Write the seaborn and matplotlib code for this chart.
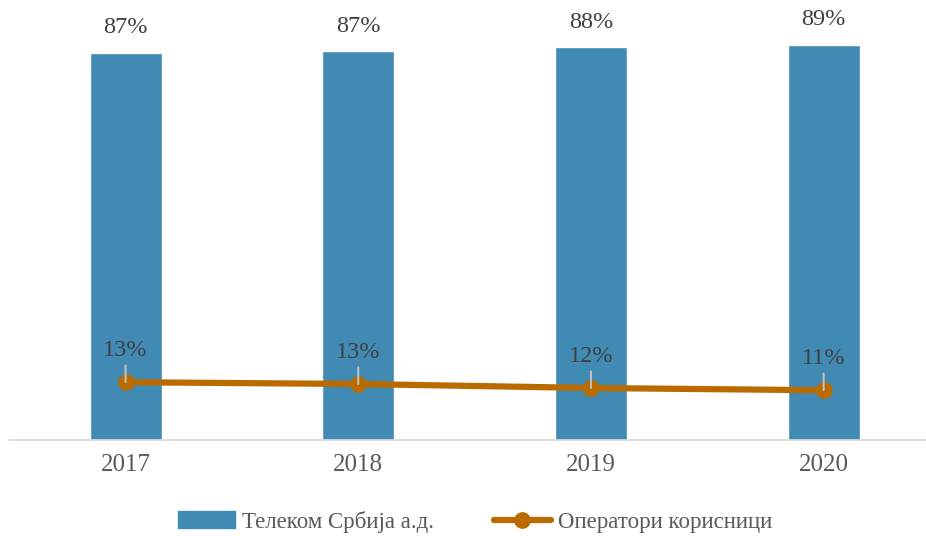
import matplotlib
matplotlib.use("Agg")
import matplotlib.pyplot as plt
import seaborn as sns
import pandas as pd
from matplotlib.patches import Patch
from matplotlib.lines import Line2D

# podaci
years = ["2017", "2018", "2019", "2020"]
telekom = [87.0, 87.4, 88.3, 88.8]
operatori = [13.0, 12.6, 11.7, 11.2]
telekom_labels = ["87%", "87%", "88%", "89%"]
operatori_labels = ["13%", "13%", "12%", "11%"]

bar_color = "#418AB3"
line_color = "#BA6B00"
text_color = "#404040"

sns.set_theme(style="white")
plt.rcParams["font.family"] = ["Liberation Serif", "DejaVu Serif"]

df = pd.DataFrame({"year": years, "telekom": telekom, "operatori": operatori})

fig = plt.figure(figsize=(9.26, 5.36), dpi=100)
ax = fig.add_axes([0.01, 0.179, 0.99, 0.821])

sns.barplot(data=df, x="year", y="telekom", color=bar_color, width=0.31,
            saturation=1, ax=ax)
ax.plot(range(len(years)), operatori, color=line_color, lw=4.5,
        marker="o", markersize=11, zorder=5, solid_capstyle="round")

# offseti u tackama (1 px = 0.72 pt)
for i, (v, lab) in enumerate(zip(telekom, telekom_labels)):
    ax.annotate(lab, (i, v), xytext=(0, 18), textcoords="offset points",
                ha="center", va="center", fontsize=17.5, color=text_color)

for i, (v, lab) in enumerate(zip(operatori, operatori_labels)):
    ax.annotate(lab, (i, v), xytext=(0, 23), textcoords="offset points",
                ha="center", va="center", fontsize=17.5, color=text_color)
    ax.annotate("", (i, v), xytext=(0, 12), textcoords="offset points",
                arrowprops=dict(arrowstyle="-", color="#BFBFBF", lw=1.5,
                                shrinkA=0, shrinkB=0), zorder=6)

ax.set_xlim(-0.5, 3.44)
ax.set_ylim(0, 98.9)
ax.set_xlabel("")
ax.set_ylabel("")
ax.set_yticks([])
for s in ["top", "right", "left"]:
    ax.spines[s].set_visible(False)
ax.spines["bottom"].set_color("#D9D9D9")
ax.spines["bottom"].set_linewidth(1.2)
ax.tick_params(axis="x", length=0, pad=10, labelsize=18, colors="#595959")

handles = [Patch(color=bar_color),
           Line2D([0], [0], color=line_color, lw=4.5, marker="o", markersize=11)]
fig.legend(handles, ["Телеком Србија а.д.", "Оператори корисници"],
           loc="center", bbox_to_anchor=(0.513, 0.027), ncol=2, frameon=False,
           fontsize=16.5, handlelength=2.5, handletextpad=0.3, columnspacing=2.6,
           labelcolor="#595959")

fig.savefig("out.png", dpi=100)
